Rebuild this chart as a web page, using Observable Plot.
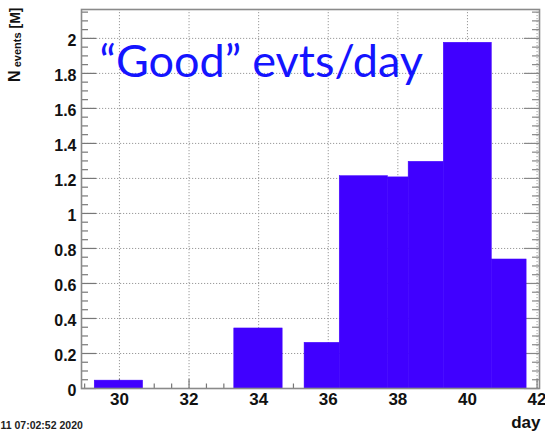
<!DOCTYPE html>
<html>
<head>
<meta charset="utf-8">
<script src="https://cdn.jsdelivr.net/npm/d3@7"></script>
<script src="https://cdn.jsdelivr.net/npm/@observablehq/plot@0.6"></script>
<style>
  html, body { margin: 0; padding: 0; background: #fff; }
  #chart svg { display: block; }
</style>
</head>
<body>
<div id="chart"></div>
<script>
// ---- data ----
const binStart = [29.29, 33.30, 35.32, 36.33, 37.71, 38.31, 39.32, 40.70];
const binEnd   = [30.68, 34.69, 36.33, 37.71, 38.31, 39.32, 40.70, 41.70];
const values   = [0.045, 0.343, 0.261, 1.213, 1.206, 1.295, 1.975, 0.737];

const xTickLabels = [30, 32, 34, 36, 38, 40, 42];
const yTickLabels = [0, 0.2, 0.4, 0.6, 0.8, 1, 1.2, 1.4, 1.6, 1.8, 2];
const xMinorTicks = d3.range(29, 42.01, 0.5);
const yMinorTicks = d3.range(0, 2.16, 0.05);

const titleText = "\u201CGood\u201D evts/day";
const xLabel = "day";
const yLabelMain = "N", yLabelSub = "events", yLabelUnit = "[M]";
const stampText = "11 07:02:52 2020";

// ---- layout ----
const W = 545, H = 432;
const mL = 81, mR = 6, mT = 9, mB = 44;
const pw = W - mL - mR, ph = H - mT - mB;

const bars = binStart.map((s, i) => ({x1: s, x2: binEnd[i], v: values[i]}));
const isMajorX = d => Math.abs(d / 2 - Math.round(d / 2)) < 1e-6;
const isMajorY = d => Math.abs(d / 0.2 - Math.round(d / 0.2)) < 1e-6;

const bold = {fontFamily: "Liberation Sans, Arial, sans-serif", fontWeight: "bold"};
const gridStyle = {stroke: "#9a9a9a", strokeWidth: 1, strokeDasharray: "1.2,1.8", strokeOpacity: 1};
const yLab = {frameAnchor: "top-left", rotate: -90, textAnchor: "end", lineAnchor: "bottom", ...bold, fill: "#111", dx: -62};

const chart = Plot.plot({
  width: W, height: H,
  marginLeft: mL, marginRight: mR, marginTop: mT, marginBottom: mB,
  style: {fontFamily: "Liberation Sans, Arial, sans-serif", background: "#fff"},
  x: {domain: [28.91, 42.07], label: null},
  y: {domain: [0, 2.165], label: null},
  marks: [
    // dotted grid
    Plot.ruleX(xTickLabels, {x: d => d, ...gridStyle}),
    Plot.ruleY(yTickLabels.filter(d => d > 0), {y: d => d, ...gridStyle}),
    // tick marks (inside), left and right
    Plot.tickY(yMinorTicks.filter(d => !isMajorY(d)), {y: d => d, stroke: "#777", strokeWidth: 1.2, insetRight: pw - 7}),
    Plot.tickY(yTickLabels, {y: d => d, stroke: "#777", strokeWidth: 1.2, insetRight: pw - 15}),
    Plot.tickY(yMinorTicks.filter(d => !isMajorY(d)), {y: d => d, stroke: "#888", strokeWidth: 1.2, insetLeft: pw - 7}),
    Plot.tickY(yTickLabels, {y: d => d, stroke: "#888", strokeWidth: 1.2, insetLeft: pw - 15}),
    // x tick marks (pointing up)
    Plot.tickX(xMinorTicks.filter(d => !isMajorX(d)), {x: d => d, stroke: "#777", strokeWidth: 1.2, insetTop: ph - 4.5}),
    Plot.tickX(xTickLabels, {x: d => d, stroke: "#777", strokeWidth: 1.2, insetTop: ph - 9}),
    // histogram bars
    Plot.rectY(bars, {x1: "x1", x2: "x2", y: "v", fill: "#4000ff", stroke: "#4000ff", strokeWidth: 0.5}),
    // frame
    Plot.frame({stroke: "#8a8a8a", strokeWidth: 1.6}),
    // axes labels
    Plot.axisX({ticks: xTickLabels, tickSize: 0, tickPadding: 4, fontSize: 17, ...bold, fill: "#111", label: null}),
    Plot.axisY({ticks: yTickLabels, tickSize: 0, tickPadding: 5, fontSize: 16, ...bold, fill: "#111", dy: 2,
      tickFormat: d => String(+d.toFixed(1)), label: null}),
    // title inside frame
    Plot.text([titleText], {text: d => d, frameAnchor: "top-left", dx: 18, dy: 36, textAnchor: "start",
      fontSize: 45, fontFamily: "Lato, 'Open Sans', sans-serif", fill: "#1414ff"}),
    // x label
    Plot.text([xLabel], {text: d => d, frameAnchor: "bottom-right", dx: 1, dy: 39, textAnchor: "end",
      fontSize: 17, ...bold, fill: "#111"}),
    // y label: N (subscript events) [M], rotated
    Plot.text([yLabelUnit], {text: d => d, ...yLab, dy: -2, fontSize: 14}),
    Plot.text([yLabelSub], {text: d => d, ...yLab, dy: 23, dx: -61, fontSize: 11}),
    Plot.text([yLabelMain], {text: d => d, ...yLab, dy: 61, fontSize: 16}),
    // timestamp
    Plot.text([stampText], {text: d => d, frameAnchor: "bottom-left", dx: -mL, dy: 40, textAnchor: "start",
      fontSize: 10.5, ...bold, fill: "#222"})
  ]
});

document.getElementById("chart").appendChild(chart);
</script>
</body>
</html>
